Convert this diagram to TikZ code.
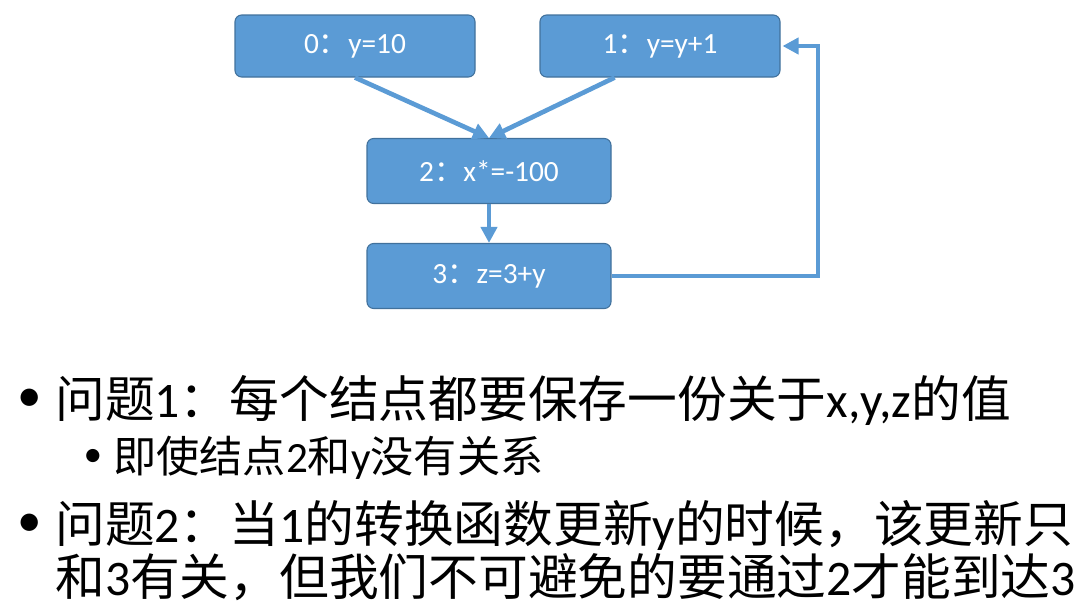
\documentclass[tikz,border=0pt]{standalone}
\usepackage{fontspec}
\setmainfont{Carlito}
\newfontfamily\zhfont{Noto Sans CJK SC}
\usetikzlibrary{arrows.meta}
\definecolor{BoxFill}{HTML}{5B9BD5}
\definecolor{BoxLine}{HTML}{41719C}
\newcommand{\zh}[1]{{\zhfont #1}}

\begin{document}
\begin{tikzpicture}[x=0.75pt,y=-0.75pt,
  blk/.style={draw=BoxLine,line width=0.8pt,fill=BoxFill,rounded corners=5pt,
    text=white,font=\fontsize{22}{26}\selectfont,inner sep=0pt,
    minimum width=180pt,minimum height=46.5pt},
  wide/.style={blk,minimum width=183pt,minimum height=48.75pt},
  flow/.style={draw=BoxFill,line width=3.5pt,-{Triangle[length=12pt,width=12pt]}},
  line/.style={anchor=west,inner sep=0pt,font=\fontsize{37.3}{41}\selectfont},
  subline/.style={line,font=\fontsize{32.4}{36}\selectfont},
  dot/.style={inner sep=0pt,font=\fontsize{36.75}{40}\selectfont}]
\useasboundingbox (0,0) rectangle (1085,607);
% blocks
\node[blk] (n0) at (355,46) {0\zh{：}y=10};
\node[blk] (n1) at (660,46) {1\zh{：}y=y+1};
\node[wide] (n2) at (489,171) {2\zh{：}x*=-100};
\node[wide] (n3) at (489,276) {3\zh{：}z=3+y};
\coordinate (back) at (818,46);
\draw[flow] (n0.south) -- (n2.north);
\draw[flow] ([xshift=-34pt]n1.south) -- (n2.north);
\draw[flow] (n2) -- (n3);
\draw[flow,shorten >=1.5pt] (n3.east) -| (back) -- (n1.east);
% text
\node[dot] (b1) at (30,400) {•};
\node[line] (q1) at (55,400) {\zh{问题}1\zh{：每个结点都要保存一份关于}x,y,z\zh{的值}};
\node[dot,font=\fontsize{28}{32}\selectfont] (b2) at (93,458) {•};
\node[subline] (q2) at (113,458) {\zh{即使结点}2\zh{和}y\zh{没有关系}};
\node[dot] (b3) at (30,525) {•};
\node[line] (q3) at (55,525) {\zh{问题}2\zh{：当}1\zh{的转换函数更新}y\zh{的时候，该更新只}};
\node[line] (q4) at (55,577) {\zh{和}3\zh{有关，但我们不可避免的要通过}2\zh{才能到达}3};
\end{tikzpicture}
\end{document}
